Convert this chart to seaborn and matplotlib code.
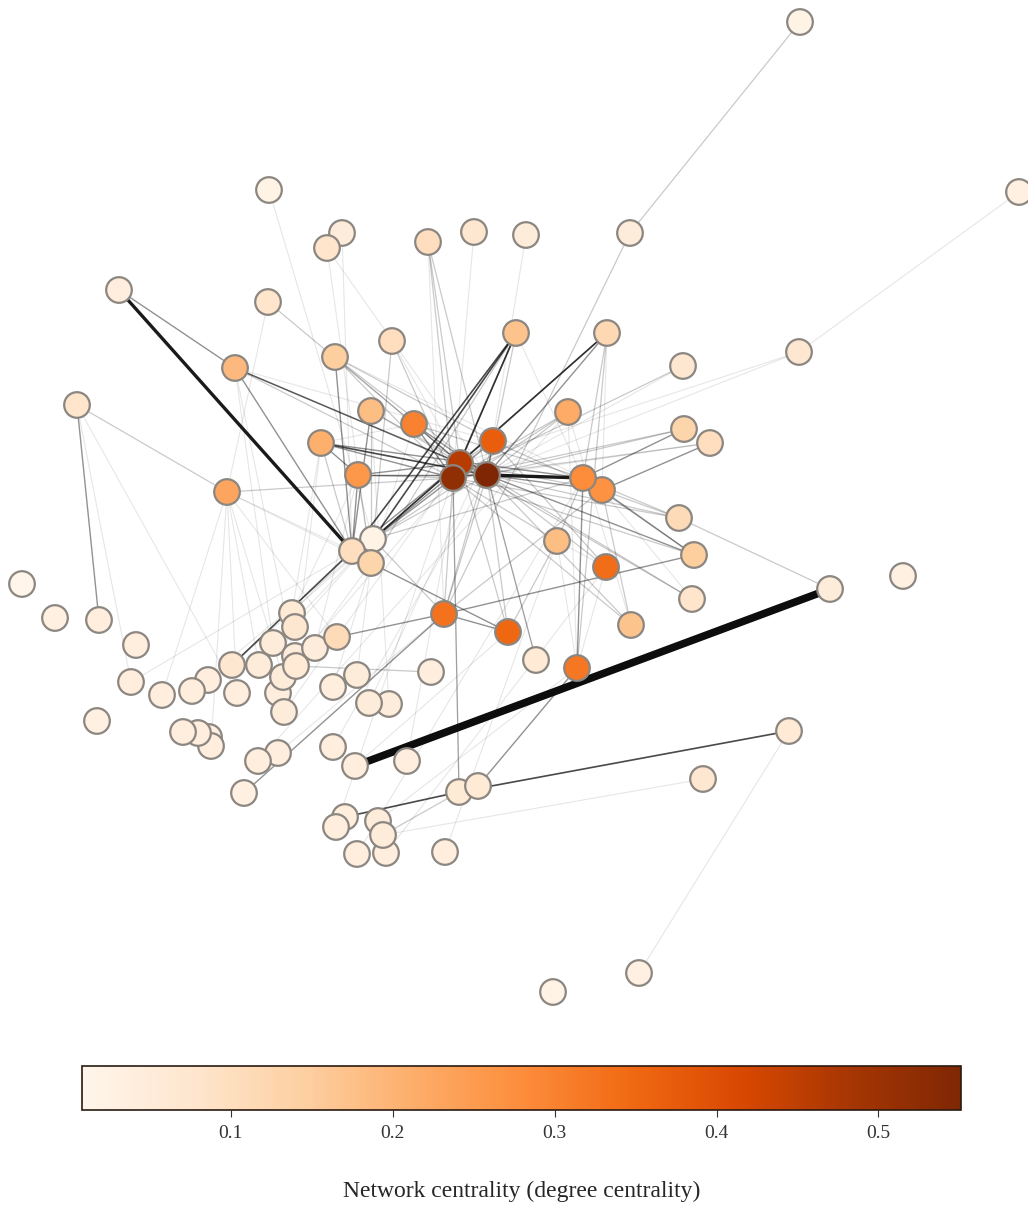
import matplotlib
matplotlib.use("Agg")
import matplotlib.pyplot as plt
from matplotlib.collections import LineCollection
from matplotlib.colors import Normalize
import numpy as np
import pandas as pd
import seaborn as sns

# node layout (x, y in layout units, y grows downward) and degree centrality
node_x = [800, 269, 342, 327, 428, 474, 526, 630, 1019, 119,
          268, 235, 335, 392, 516, 607, 683, 799, 77, 371,
          414, 321, 493, 568, 684, 710, 460, 453, 487, 358,
          583, 602, 227, 679, 557, 694, 373, 352, 371, 606,
          830, 903, 692, 22, 55, 99, 444, 508, 631, 136,
          292, 295, 337, 273, 315, 295, 296, 232, 259, 283,
          278, 284, 237, 208, 192, 162, 131, 97, 183, 198,
          209, 211, 258, 278, 244, 333, 357, 431, 369, 389,
          333, 355, 407, 536, 577, 789, 703, 459, 478, 336,
          345, 378, 383, 357, 386, 445, 639, 553]
node_y = [22, 190, 233, 248, 242, 232, 235, 233, 192, 290,
          302, 368, 357, 341, 333, 333, 366, 352, 405, 411,
          424, 443, 441, 412, 429, 443, 463, 478, 475, 475,
          478, 490, 492, 518, 541, 555, 539, 551, 563, 567,
          589, 576, 599, 584, 618, 620, 614, 632, 625, 645,
          613, 627, 637, 643, 648, 656, 666, 665, 665, 677,
          693, 712, 693, 680, 691, 695, 682, 721, 732, 733,
          737, 746, 761, 753, 793, 687, 675, 672, 703, 704,
          747, 766, 761, 660, 668, 731, 779, 792, 786, 827,
          817, 821, 835, 854, 853, 852, 973, 992]
centrality = [0.02, 0.02, 0.05, 0.08, 0.10, 0.07, 0.05, 0.05, 0.03, 0.04,
              0.08, 0.19, 0.15, 0.10, 0.17, 0.12, 0.07, 0.07, 0.08, 0.18,
              0.30, 0.21, 0.37, 0.22, 0.13, 0.10, 0.46, 0.52, 0.551, 0.26,
              0.28, 0.27, 0.23, 0.11, 0.18, 0.15, 0.02, 0.10, 0.13, 0.34,
              0.05, 0.03, 0.08, 0.008, 0.03, 0.04, 0.33, 0.35, 0.17, 0.04,
              0.06, 0.07, 0.11, 0.05, 0.05, 0.05, 0.06, 0.07, 0.05, 0.05,
              0.04, 0.05, 0.04, 0.04, 0.04, 0.04, 0.04, 0.03, 0.04, 0.04,
              0.04, 0.04, 0.04, 0.04, 0.03, 0.04, 0.05, 0.04, 0.05, 0.05,
              0.04, 0.04, 0.04, 0.06, 0.32, 0.06, 0.07, 0.06, 0.06, 0.04,
              0.04, 0.05, 0.05, 0.04, 0.04, 0.04, 0.03, 0.02]

# edges: source, target, weight class (1 = faint ... 6 = strongest)
edge_src = [0, 7, 8, 17, 9, 9, 18, 18, 18, 18, 11, 11, 11, 11, 11, 10, 10,
            12, 12, 12, 12, 12, 12, 13, 13, 13, 4, 4, 4, 4, 3, 3, 5, 6, 2, 1,
            14, 14, 14, 14, 14, 14, 14, 15, 15, 15, 15, 15, 15, 16, 16, 17,
            19, 19, 19, 19, 20, 20, 20, 20, 20, 21, 21, 21, 21, 21,
            22, 22, 22, 22, 22, 22, 23, 23, 23, 23, 23, 24, 24, 24, 25, 25, 25,
            26, 26, 26, 26, 26, 27, 27, 27, 27, 27, 27, 27, 27,
            28, 28, 28, 28, 28, 28, 28, 28, 28, 28, 28, 28,
            29, 29, 29, 29, 29, 30, 30, 30, 30, 30, 31, 31, 31, 31,
            32, 32, 32, 32, 32, 34, 34, 34, 35, 36, 36, 36, 37, 37, 38, 38,
            40, 40, 46, 46, 46, 46, 46, 56, 84, 84, 85, 87, 85, 86, 87, 87, 83,
            32, 32, 32, 11, 11, 21, 21, 26, 27, 29, 29, 20, 36, 36, 37, 38,
            19, 22, 26, 28, 27, 34, 39, 84, 47, 30, 23, 46]
edge_dst = [7, 46, 17, 26, 37, 11, 45, 32, 66, 62, 37, 26, 27, 28, 22, 20, 32,
            37, 27, 28, 26, 22, 30, 27, 26, 38, 27, 28, 46, 26, 38, 28, 27, 28, 37, 36,
            37, 36, 27, 26, 28, 38, 30, 26, 36, 28, 84, 30, 31, 27, 28, 28,
            37, 28, 26, 38, 28, 27, 26, 30, 21, 29, 28, 30, 27, 37,
            36, 28, 26, 46, 39, 31, 36, 28, 27, 48, 84, 30, 28, 27, 31, 27, 28,
            36, 37, 47, 42, 31, 36, 46, 87, 35, 33, 34, 48, 32,
            30, 31, 33, 35, 36, 39, 47, 48, 83, 29, 42, 46,
            37, 38, 26, 27, 28, 84, 35, 33, 36, 34, 35, 33, 48, 42,
            38, 37, 58, 65, 52, 47, 39, 84, 46, 57, 53, 51, 57, 38, 47, 56,
            33, 81, 47, 52, 74, 31, 36, 77, 88, 39, 87, 90, 96, 92, 92, 27, 28,
            62, 71, 59, 53, 56, 55, 60, 61, 59, 50, 54, 75, 66, 64, 50, 76,
            79, 78, 82, 80, 89, 95, 94, 91, 81, 93, 72, 73]
edge_w = [2, 2, 1, 1, 5, 3, 3, 2, 1, 1, 3, 3, 2, 3, 1, 2, 1,
          3, 2, 2, 2, 2, 1, 2, 1, 2, 2, 2, 1, 2, 1, 1, 1, 1, 1, 1,
          4, 4, 4, 3, 2, 2, 1, 4, 3, 3, 2, 2, 1, 2, 1, 1,
          3, 2, 2, 2, 3, 3, 3, 2, 1, 3, 4, 3, 3, 2,
          3, 3, 2, 2, 2, 2, 2, 2, 2, 1, 1, 3, 2, 2, 3, 2, 1,
          4, 3, 2, 2, 2, 3, 2, 2, 2, 2, 2, 2, 2,
          5, 3, 2, 3, 2, 2, 2, 2, 2, 3, 2, 2,
          3, 2, 3, 2, 2, 3, 2, 2, 2, 2, 3, 2, 2, 1,
          1, 1, 1, 1, 1, 2, 1, 1, 3, 1, 1, 1, 4, 2, 3, 1,
          2, 6, 3, 3, 3, 2, 2, 2, 3, 1, 4, 4, 1, 1, 2, 2, 2,
          1, 1, 1, 1, 1, 1, 1, 1, 1, 1, 1, 1, 1, 1, 1, 1,
          1, 1, 1, 1, 1, 1, 1, 1, 1, 1, 1, 1]

weight_alpha = {1: 0.10, 2: 0.22, 3: 0.45, 4: 0.75, 5: 0.95, 6: 1.0}
weight_lw = {1: 0.8, 2: 0.9, 3: 1.0, 4: 1.2, 5: 2.4, 6: 5.5}

nodes = pd.DataFrame({"x": node_x, "y": node_y, "centrality": centrality})
nodes = nodes.sort_values("centrality")

sns.set_style("white")
plt.rcParams['font.family'] = ['Liberation Serif', 'DejaVu Serif']

fig = plt.figure(figsize=(10.28, 12.08), dpi=100)
ax = fig.add_axes([0, 1 - 1040 / 1208, 1, 1040 / 1208])

segs = [[(node_x[s], node_y[s]), (node_x[t], node_y[t])] for s, t in zip(edge_src, edge_dst)]
cols = [(0.05, 0.05, 0.05, weight_alpha[w]) for w in edge_w]
lws = [weight_lw[w] for w in edge_w]
order = np.argsort(edge_w)
ax.add_collection(LineCollection([segs[i] for i in order],
                                 colors=[cols[i] for i in order],
                                 linewidths=[lws[i] for i in order], zorder=1))

norm = Normalize(vmin=min(centrality), vmax=max(centrality))
sns.scatterplot(data=nodes, x="x", y="y", hue="centrality", palette="Oranges",
                hue_norm=norm, s=340, edgecolor="#8c8681", linewidth=1.6,
                legend=False, ax=ax, zorder=2)

ax.set_xlim(0, 1028)
ax.set_ylim(1040, 0)
ax.set_axis_off()

# colorbar
cax = fig.add_axes([82 / 1028, 1 - 1110 / 1208, 879 / 1028, 44 / 1208])
sm = plt.cm.ScalarMappable(norm=norm, cmap="Oranges")
cbar = fig.colorbar(sm, cax=cax, orientation="horizontal")
cbar.set_ticks([0.1, 0.2, 0.3, 0.4, 0.5])
cbar.ax.tick_params(labelsize=14, length=5, width=0.8, pad=6, colors="#333333")
cbar.outline.set_linewidth(1.2)
cbar.outline.set_edgecolor("#2a1a10")
cbar.set_label("Network centrality (degree centrality)", fontsize=17, labelpad=28)

fig.savefig("out.png", dpi=100)
